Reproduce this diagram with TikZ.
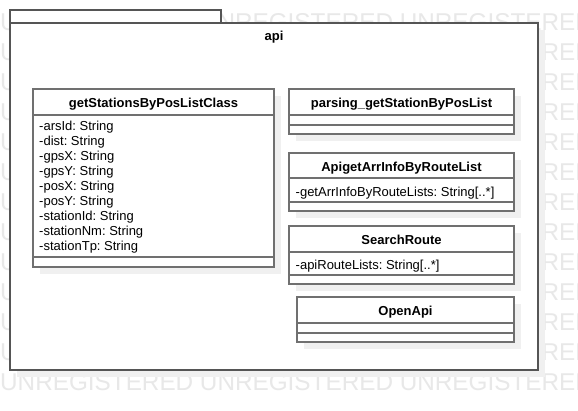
\documentclass[tikz,border=0pt]{standalone}
\usepackage{fontspec}
\setmainfont{Liberation Sans}
\usetikzlibrary{positioning}
\frenchspacing

\definecolor{umlline}{RGB}{112,112,112}
\definecolor{pkgline}{RGB}{85,85,85}
\definecolor{shadowgray}{RGB}{240,240,240}
\definecolor{wmgray}{RGB}{232,232,232}

\tikzset{
  boxshadow/.style={draw=none,fill=shadowgray},
  pkgbox/.style={draw=pkgline,line width=1.4pt,fill=white},
  classbox/.style={draw=umlline,line width=1.4pt,fill=white},
  classline/.style={draw=umlline,line width=1.4pt},
  cname/.style={font=\fontsize{13}{15}\bfseries\selectfont,anchor=base,inner sep=0pt},
  attr/.style={font=\fontsize{13}{15}\selectfont,anchor=base west,inner sep=0pt},
  watermark/.style={font=\fontsize{24.3}{30}\selectfont,text=wmgray,anchor=base west,inner sep=0pt}
}

\begin{document}
\begin{tikzpicture}[x=1pt,y=-1pt]
    \useasboundingbox (0,0) rectangle (578,410);
    \fill[white] (0,0) rectangle (578,410);
    \begin{scope}
        \clip (0,0) rectangle (578,410);
        \foreach \r in {0,...,12}
            \node[watermark] (wm\r) at (0,30+30*\r) {UNREGISTERED UNREGISTERED UNREGISTERED};
    \end{scope}

    % package api
    \fill[boxshadow] (17,30) rectangle (545,377);
    \filldraw[pkgbox] (10,10) rectangle (221,23);
    \filldraw[pkgbox] (10,23) rectangle (538,370);
    \node[cname] (api) at (274,40) {api};

    % getStationsByPosListClass
    \fill[boxshadow] (40,96) rectangle (281,274);
    \filldraw[classbox] (33,89) rectangle (274,267);
    \draw[classline] (33,115) -- (274,115);
    \draw[classline] (33,257) -- (274,257);
    \node[cname] (stations) at (153.5,107) {getStationsByPosListClass};
    \foreach \a [count=\i] in {arsId,dist,gpsX,gpsY,posX,posY,stationId,stationNm,stationTp}
        \node[attr] (stations\i) at (39,115+15*\i) {-\a: String};

    % parsing_getStationByPosList
    \fill[boxshadow] (296,96) rectangle (521,141);
    \filldraw[classbox] (289,89) rectangle (514,134);
    \draw[classline] (289,115) -- (514,115);
    \draw[classline] (289,125) -- (514,125);
    \node[cname] (parsing) at (401.5,107) {parsing\_getStationByPosList};

    % ApigetArrInfoByRouteList
    \fill[boxshadow] (296,160) rectangle (521,218);
    \filldraw[classbox] (289,153) rectangle (514,211);
    \draw[classline] (289,178) -- (514,178);
    \draw[classline] (289,202) -- (514,202);
    \node[cname] (arrinfo) at (401.5,171) {ApigetArrInfoByRouteList};
    \node[attr] (arrinfo1) at (295.5,196) {-getArrInfoByRouteLists: String[..*]};

    % SearchRoute
    \fill[boxshadow] (296,233) rectangle (521,291);
    \filldraw[classbox] (289,226) rectangle (514,284);
    \draw[classline] (289,252) -- (514,252);
    \draw[classline] (289,275) -- (514,275);
    \node[cname] (search) at (401.5,244) {SearchRoute};
    \node[attr] (search1) at (295.5,269) {-apiRouteLists: String[..*]};

    % OpenApi
    \fill[boxshadow] (304,304) rectangle (521,349);
    \filldraw[classbox] (297,297) rectangle (514,342);
    \draw[classline] (297,323) -- (514,323);
    \draw[classline] (297,333) -- (514,333);
    \node[cname] (openapi) at (405.5,315) {OpenApi};
\end{tikzpicture}
\end{document}
